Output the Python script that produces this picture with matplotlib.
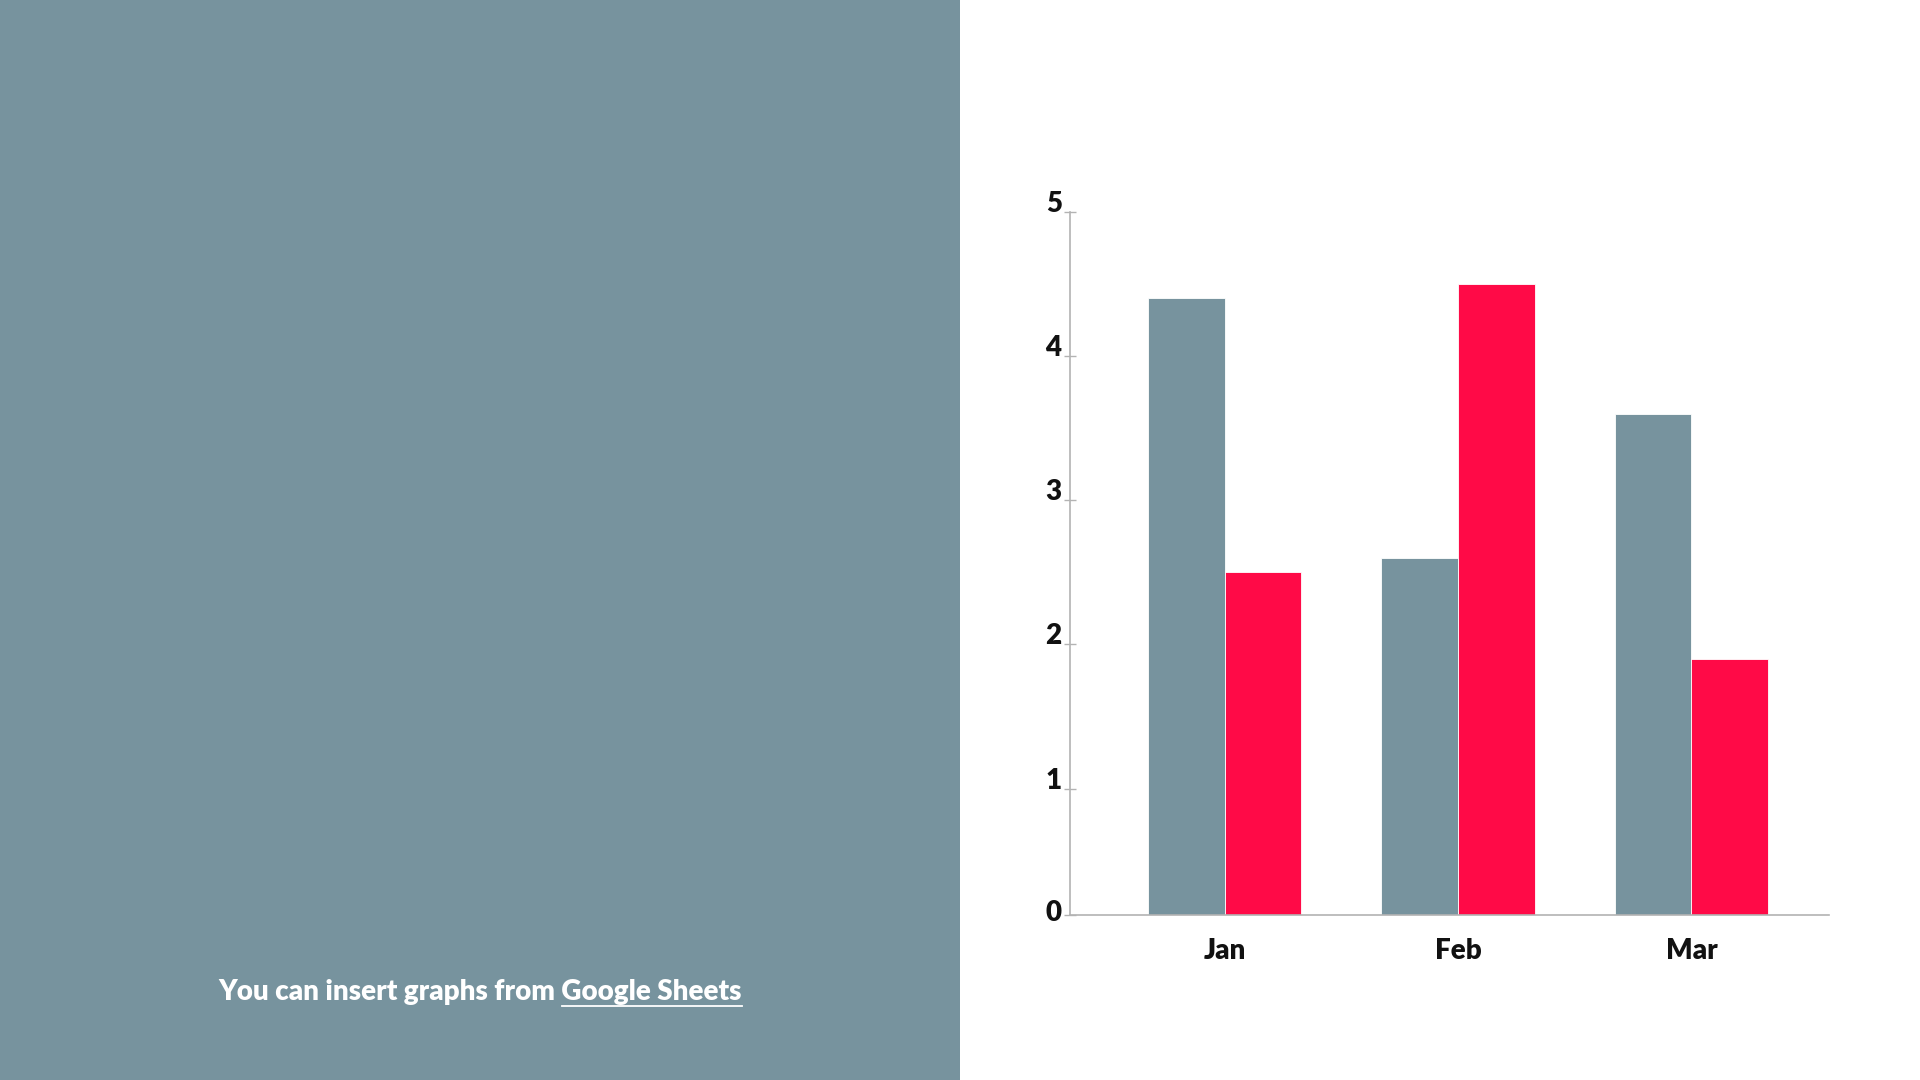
import matplotlib
matplotlib.use("Agg")
import matplotlib.pyplot as plt
import matplotlib.transforms as mtransforms
from matplotlib.patches import Rectangle
from matplotlib.lines import Line2D
import numpy as np

# chart data
months = ["Jan", "Feb", "Mar"]
series_gray = [4.4, 2.6, 3.6]
series_red = [2.5, 4.5, 1.9]
y_ticks = [1, 2, 3, 4, 5]

# colours
panel_color = "#77939e"
gray_color = "#77939e"
red_color = "#ff0a47"
axis_color = "#b3b3b3"

plt.rcParams["font.family"] = ["Lato", "DejaVu Sans"]


def main():
    fig = plt.figure(figsize=(19.2, 10.8), dpi=100)
    fig.patch.set_facecolor("white")

    # left side panel
    fig.patches.append(Rectangle((0, 0), 0.5, 1, transform=fig.transFigure,
                                 facecolor=panel_color, edgecolor="none", zorder=0))

    caption = "You can insert graphs from Google Sheets"
    link = "Google Sheets"
    txt = fig.text(0.25, (1080 - 1000) / 1080, caption, color="white", fontsize=20,
                   fontweight="heavy", ha="center", va="baseline")

    # bar chart on the right
    ax = fig.add_axes([1070 / 1920, (1080 - 914.7) / 1080, 759 / 1920, 703 / 1080])
    x = np.arange(len(months))
    width = 0.328
    ax.bar(x - width / 2, series_gray, width, color=gray_color, edgecolor="white", linewidth=0.6)
    ax.bar(x + width / 2, series_red, width, color=red_color, edgecolor="white", linewidth=0.6)

    y_bottom = 0.125
    ax.set_ylim(y_bottom, 5)
    ax.set_xlim(-0.662, 2.589)

    ax.set_yticks([y_bottom] + y_ticks)
    ax.set_yticklabels(["0"] + [str(t) for t in y_ticks])
    ax.set_xticks(x)
    ax.set_xticklabels(months)

    for side in ["top", "right"]:
        ax.spines[side].set_visible(False)
    for side in ["left", "bottom"]:
        ax.spines[side].set_color(axis_color)
        ax.spines[side].set_linewidth(1.2)

    ax.tick_params(axis="y", direction="inout", length=8, width=1, color=axis_color,
                   labelsize=20, pad=2)
    ax.tick_params(axis="x", length=0, labelsize=20, pad=17)
    for lab in ax.get_yticklabels() + ax.get_xticklabels():
        lab.set_fontweight("heavy")
        lab.set_color("#111111")
    for lab in ax.get_yticklabels():
        lab.set_va("baseline")
    # the zero label sits on the baseline itself, a little raised
    zero = ax.get_yticklabels()[0]
    zero.set_va("center_baseline")
    zero.set_transform(zero.get_transform() +
                       mtransforms.ScaledTranslation(0, 4 / 100, fig.dpi_scale_trans))

    # underline the link part of the caption
    fig.canvas.draw()
    renderer = fig.canvas.get_renderer()
    bb = txt.get_window_extent(renderer)
    tmp = fig.text(0, 0, link, fontsize=20, fontweight="heavy")
    link_w = tmp.get_window_extent(renderer).width
    tmp.remove()
    y_line = (1080 - 1006) / 1080
    fig.add_artist(Line2D([(bb.x1 - link_w) / 1920, bb.x1 / 1920], [y_line, y_line],
                          transform=fig.transFigure, color="white", linewidth=1.3))

    fig.savefig("out.png", dpi=100, facecolor=fig.get_facecolor())


if __name__ == "__main__":
    main()
